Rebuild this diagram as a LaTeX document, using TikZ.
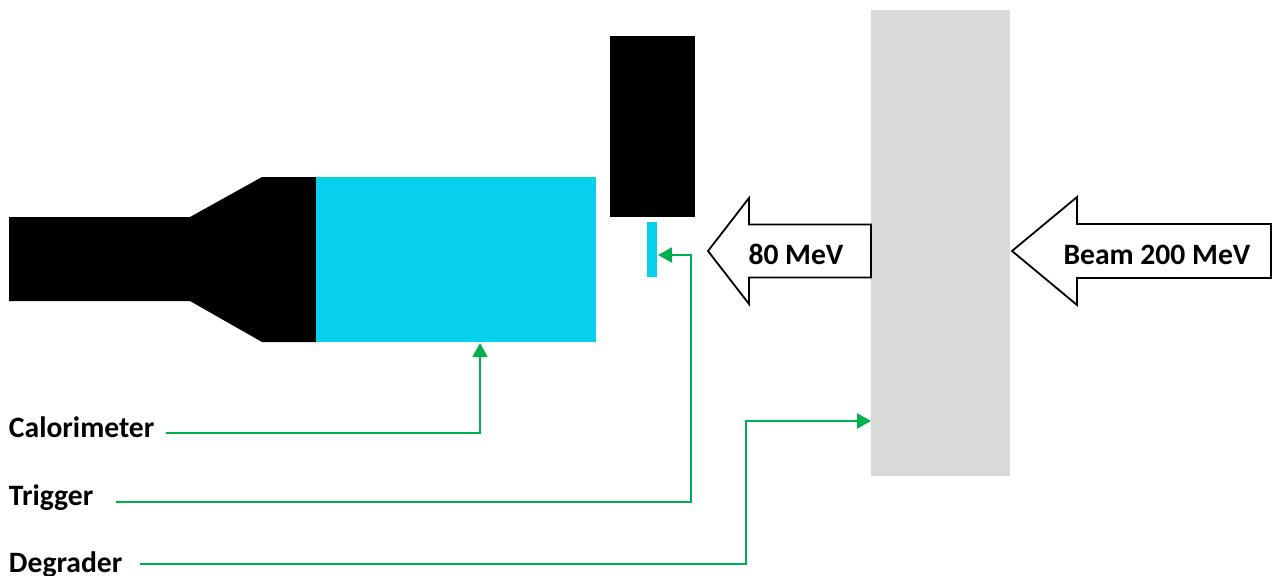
\documentclass[tikz,border=0pt]{standalone}
\usepackage{fontspec}
\setmainfont{Carlito}
\usetikzlibrary{arrows.meta}
\definecolor{detcyan}{HTML}{07D0EC}
\definecolor{lead}{HTML}{00B050}
\definecolor{greyblock}{HTML}{D9D9D9}
\tikzset{
  block/.style={rectangle,inner sep=0pt,outer sep=0pt,draw=none},
  lbl/.style={inner sep=0pt,outer sep=0pt,font=\bfseries\fontsize{29.6}{33}\selectfont,text=black},
  blockarrow/.style={draw=black,line width=1.8pt,fill=white,line join=miter,miter limit=10},
  leader/.style={draw=lead,line width=2pt,-{Triangle[length=14pt,width=15pt]}}
}
\newcommand{\boxat}[6]{\node[block,fill=#6,minimum width=#4-#2,minimum height=#5-#3] (#1) at ({(#2+#4)/2},{(#3+#5)/2}) {};}
\begin{document}
\begin{tikzpicture}[x=1pt,y=-1pt]
\useasboundingbox (0,0) rectangle (1273,575);
% degrader block
\boxat{deg}{871}{10}{1010}{476}{greyblock}
% upper black block and trigger
\boxat{top}{610}{36}{695}{217}{black}
\boxat{trig}{647}{222}{657}{277}{detcyan}
% photomultiplier and calorimeter
\fill[black] (9,217) -- (190,217) -- (262,177) -- (316,177) -- (316,342) -- (262,342) -- (190,301) -- (9,301) -- cycle;
\boxat{cal}{316}{177}{596}{342}{detcyan}
% block arrows
\draw[blockarrow] (871,224.5) -- (749,224.5) -- (749,198) -- (708,251) -- (749,304) -- (749,277.5) -- (871,277.5) -- cycle;
\draw[blockarrow] (1271,224) -- (1077,224) -- (1077,197) -- (1012,251) -- (1077,305) -- (1077,278) -- (1271,278) -- cycle;
\node[lbl,anchor=base] (e80) at (796,264) {80 MeV};
\node[lbl,anchor=base] (e200) at (1157,264) {Beam 200 MeV};
% labels
\node[lbl,anchor=base west] (lcal) at (9,437) {Calorimeter};
\node[lbl,anchor=base west] (ltrig) at (9,505) {Trigger};
\node[lbl,anchor=base west] (ldeg) at (9,572) {Degrader};
% leaders
\coordinate (scal) at (166,432.5);
\coordinate (strig) at (116,501.5);
\coordinate (sdeg) at (140,564);
\draw[leader] (scal) -| ([xshift=24,yshift=-1]cal.south);
\draw[leader] (strig) -- (690.5,501.5) |- ([xshift=1,yshift=-5.5]trig.east);
\draw[leader] (sdeg) -- (746,564) |- ([yshift=-178]deg.west);
\end{tikzpicture}
\end{document}
